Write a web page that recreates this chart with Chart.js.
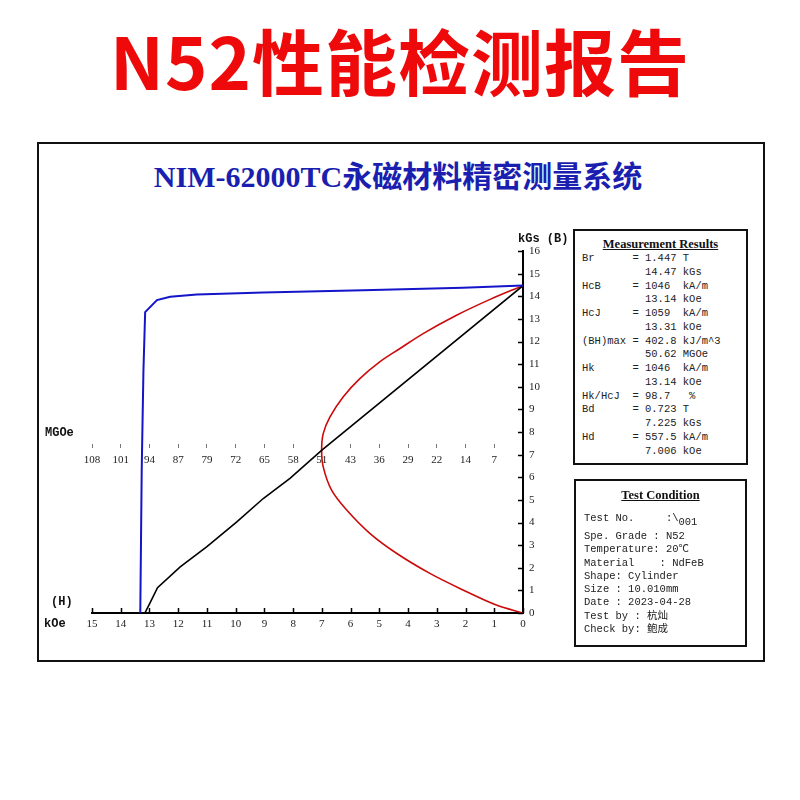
<!DOCTYPE html>
<html lang="zh">

<head>
  <meta charset="UTF-8">
  <title>N52性能检测报告</title>
  <script src="https://cdn.jsdelivr.net/npm/chart.js"></script>
  <style>
    body { margin: 0; background: #fff; width: 800px; height: 800px; position: relative; overflow: hidden; }
    #grafico { position: absolute; left: 0; top: 0; }
    .titulo { position: absolute; left: 0; top: 15px; width: 800px; text-align: center; font-family: "Noto Sans CJK SC"; font-weight: 700; font-size: 72px; line-height: 88px; letter-spacing: 1px; color: #ee0a0a; }
    .moldura { position: absolute; left: 37px; top: 142px; width: 728px; height: 520px; box-sizing: border-box; border: 2px solid #111; }
    .subtitulo { position: absolute; left: 37px; top: 159px; width: 722px; text-align: center; font-family: "Liberation Serif", "Noto Sans CJK SC"; font-weight: 700; font-size: 30px; line-height: 36px; color: #1a1fb0; }
    .caixa { position: absolute; box-sizing: border-box; border: 2px solid #111; background: #fff; }
    .caixa h4 { margin: 0; position: absolute; left: 0; width: 100%; text-align: center; font-family: "Liberation Serif"; font-style: normal; font-size: 12.5px; line-height: 14px; text-decoration: underline; color: #111; }
    .caixa pre { margin: 0; position: absolute; left: 7px; font-family: "Liberation Mono", "Noto Sans CJK SC"; font-size: 10.5px; color: #222; }
    .rotulo { position: absolute; font-family: "Liberation Mono"; font-weight: 700; font-size: 12px; line-height: 14px; color: #111; white-space: pre; }
  </style>
</head>

<body>
  <div class="titulo">N52性能检测报告</div>
  <div class="moldura"></div>
  <div class="subtitulo">NIM-62000TC永磁材料精密测量系统</div>

  <canvas id="grafico" width="800" height="800"></canvas>

  <div class="rotulo" style="left:518px; top:232px;">kGs (B)</div>
  <div class="rotulo" style="left:45px; top:426px;">MGOe</div>
  <div class="rotulo" style="left:51px; top:595px;">(H)</div>
  <div class="rotulo" style="left:44px; top:617px;">kOe</div>

  <div class="caixa" style="left:573px; top:229px; width:175px; height:236px;">
    <h4 style="top:6px;">Measurement Results</h4>
    <pre style="top:21px; line-height:13.75px;">Br      = 1.447 T
          14.47 kGs
HcB     = 1046  kA/m
          13.14 kOe
HcJ     = 1059  kA/m
          13.31 kOe
(BH)max = 402.8 kJ/m^3
          50.62 MGOe
Hk      = 1046  kA/m
          13.14 kOe
Hk/HcJ  = 98.7   %
Bd      = 0.723 T
          7.225 kGs
Hd      = 557.5 kA/m
          7.006 kOe</pre>
  </div>

  <div class="caixa" style="left:574px; top:479px; width:173px; height:168px;">
    <h4 style="top:7px;">Test Condition</h4>
    <pre style="left:8px; top:30px; line-height:14px;">Test No.     :\<span style="position:relative; top:4px;">001</span></pre>
    <pre style="left:8px; top:49px; line-height:13.3px;">Spe. Grade : N52
Temperature: 20℃
Material    : NdFeB
Shape: Cylinder
Size : 10.010mm
Date : 2023-04-28
Test by : 杭灿
Check by: 鲍成</pre>
  </div>
</body>

</html>

<script>
  // CURVA AZUL (J x H)
  const blueH = [13.32, 13.27, 13.21, 13.15, 12.74, 12.28, 11.35, 9.04, 5.56, 2.09, 0];
  const blueB = [0, 6.3, 10.7, 13.3, 13.83, 13.98, 14.08, 14.17, 14.27, 14.38, 14.47];

  // CURVA PRETA (B x H)
  const blackH = [13.16, 12.98, 12.72, 11.93, 11.0, 9.96, 9.04, 8.11, 7.0, 0];
  const blackB = [0, 0.45, 1.12, 2.04, 2.93, 4.03, 5.06, 5.95, 7.2, 14.47];

  // CURVA VERMELHA (BH em MGOe x B em kGs)
  const redBH = [0, 8.4, 16.7, 25.1, 30.9, 36.0, 41.0, 45.2, 48.5, 50.2, 50.6, 50.2, 48.1, 44.3, 38.5, 31.8, 23.4, 15.1, 6.7, 0];
  const redB = [14.47, 13.85, 13.16, 12.35, 11.69, 11.10, 10.36, 9.55, 8.67, 7.93, 7.2, 6.46, 5.43, 4.55, 3.52, 2.64, 1.75, 1.02, 0.35, 0];

  // EIXO DO MEIO (MGOe), um rotulo por divisao de kOe
  const mgoeTicks = [7, 14, 22, 29, 36, 43, 51, 58, 65, 72, 79, 87, 94, 101, 108];
  const mgoePerKoe = 7.22;

  function pares(xs, ys) {
    return xs.map((v, i) => ({ x: v, y: ys[i] }));
  }

  // marcas de divisao para dentro do grafico
  const marcasInternas = {
    id: 'marcasInternas',
    afterDraw(chart) {
      const ctx = chart.ctx;
      const sx = chart.scales.x;
      const sy = chart.scales.y;
      ctx.save();
      ctx.strokeStyle = '#000';
      ctx.lineWidth = 1.5;
      ctx.beginPath();
      sx.ticks.forEach((t, i) => {
        const px = Math.round(sx.getPixelForTick(i)) + 0.5;
        ctx.moveTo(px, sx.top);
        ctx.lineTo(px, sx.top - 5);
      });
      sy.ticks.forEach((t, i) => {
        const py = Math.round(sy.getPixelForTick(i)) + 0.5;
        ctx.moveTo(sy.left, py);
        ctx.lineTo(sy.left - 5, py);
      });
      ctx.stroke();
      ctx.restore();
    }
  };

  const fonteEixo = { family: 'Liberation Serif', size: 11 };

  var ctx = document.getElementById('grafico').getContext('2d');

  var config = {
    type: 'scatter',
    data: {
      datasets: [
        {
          label: 'J',
          data: pares(blueH, blueB),
          showLine: true,
          borderColor: '#1414c8',
          borderWidth: 2,
          pointRadius: 0,
          xAxisID: 'x'
        },
        {
          label: 'B',
          data: pares(blackH, blackB),
          showLine: true,
          borderColor: '#000000',
          borderWidth: 1.6,
          pointRadius: 0,
          xAxisID: 'x'
        },
        {
          label: 'BH',
          data: pares(redBH, redB),
          showLine: true,
          borderColor: '#cc0a0a',
          borderWidth: 1.6,
          pointRadius: 0,
          tension: 0.35,
          xAxisID: 'xm'
        }
      ]
    },
    options: {
      responsive: false,
      animation: false,
      devicePixelRatio: 1,
      layout: {
        padding: { left: 92, top: 251, right: 237, bottom: 157 }
      },
      plugins: {
        legend: { display: false },
        tooltip: { enabled: false }
      },
      scales: {
        x: {
          type: 'linear',
          min: 0,
          max: 15,
          reverse: true,
          position: 'bottom',
          grid: { display: false, drawTicks: false },
          border: { color: '#000', width: 2 },
          ticks: { stepSize: 1, autoSkip: false, maxRotation: 0, padding: 5, color: '#222', font: fonteEixo },
          afterFit: (scale) => { scale.height = 30; }
        },
        y: {
          type: 'linear',
          min: 0,
          max: 16,
          position: 'right',
          grid: { display: false, drawTicks: false },
          border: { color: '#000', width: 2 },
          ticks: { stepSize: 1, autoSkip: false, padding: 6, color: '#222', font: fonteEixo },
          afterFit: (scale) => { scale.width = 40; }
        },
        xm: {
          type: 'linear',
          min: 0,
          max: 15 * mgoePerKoe,
          reverse: true,
          position: { y: 7.45 },
          grid: { drawOnChartArea: false, drawTicks: true, tickLength: 4, color: '#777', lineWidth: 1 },
          border: { display: false },
          afterBuildTicks: (scale) => {
            scale.ticks = mgoeTicks.map((t, i) => ({ value: (i + 1) * mgoePerKoe }));
          },
          ticks: {
            autoSkip: false,
            maxRotation: 0,
            padding: 5,
            color: '#222',
            font: fonteEixo,
            callback: (value, index) => mgoeTicks[index]
          }
        }
      }
    },
    plugins: [marcasInternas]
  };

  new Chart(ctx, config);
</script>
